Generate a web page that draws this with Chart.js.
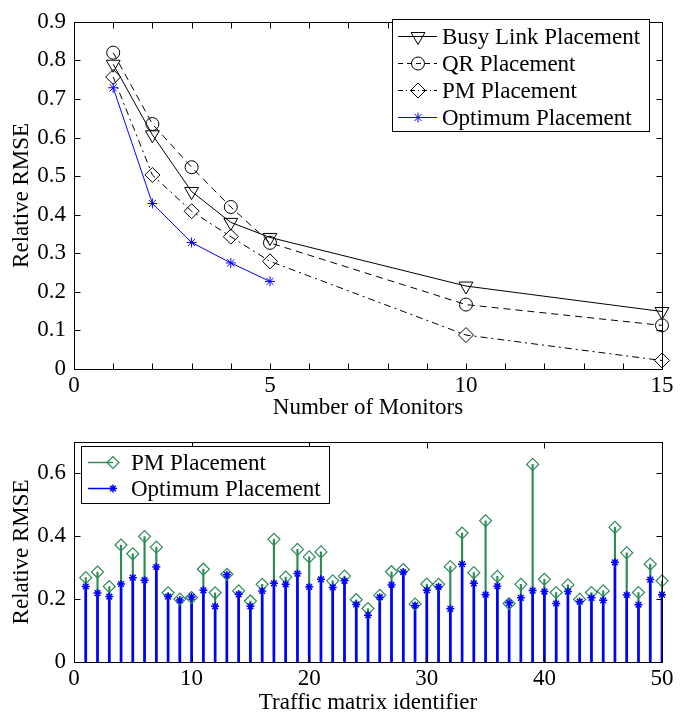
<!DOCTYPE html>
<html>
<head>
<meta charset="utf-8">
<script src="https://cdn.jsdelivr.net/npm/chart.js@4.4.1/dist/chart.umd.min.js"></script>
<style>
  html, body { margin: 0; padding: 0; background: #fff; }
  #wrap { position: relative; width: 694px; height: 714px; }
  #topChart { position: absolute; left: 0; top: 0; }
  #botChart { position: absolute; left: 0; top: 420px; }
</style>
</head>
<body>
<div id="wrap">
  <canvas id="topChart" width="694" height="420"></canvas>
  <canvas id="botChart" width="694" height="294"></canvas>
</div>
<script>
// ---- top panel: error vs number of monitors ----
const monitors = [1, 2, 3, 4, 5, 10, 15];
const busyLink = [0.790, 0.607, 0.460, 0.380, 0.341, 0.215, 0.149];
const qrPlace  = [0.820, 0.635, 0.523, 0.420, 0.327, 0.167, 0.113];
const pmPlace  = [0.757, 0.503, 0.409, 0.343, 0.279, 0.088, 0.022];
const optMonitors = [1, 2, 3, 4, 5];
const optPlace = [0.729, 0.429, 0.328, 0.275, 0.227];

const topXTicks = [0, 1, 2, 3, 4, 5, 6, 7, 8, 9, 10, 11, 12, 13, 14, 15];
const topXLabels = [0, 5, 10, 15];
const topYTicks = [0, 0.1, 0.2, 0.3, 0.4, 0.5, 0.6, 0.7, 0.8, 0.9];

// ---- bottom panel: error per traffic matrix ----
const tmIds = [];
for (let i = 1; i <= 50; i++) tmIds.push(i);
const pmTm = [0.268, 0.286, 0.240, 0.372, 0.344, 0.399, 0.365, 0.220, 0.200, 0.205,
              0.295, 0.220, 0.279, 0.226, 0.194, 0.247, 0.390, 0.270, 0.358, 0.334,
              0.350, 0.258, 0.273, 0.198, 0.170, 0.212, 0.287, 0.294, 0.184, 0.248,
              0.247, 0.303, 0.410, 0.284, 0.449, 0.272, 0.186, 0.247, 0.628, 0.263,
              0.221, 0.245, 0.199, 0.221, 0.226, 0.428, 0.347, 0.221, 0.311, 0.258];
const optTm = [0.240, 0.219, 0.208, 0.248, 0.268, 0.260, 0.302, 0.208, 0.197, 0.207,
               0.228, 0.177, 0.277, 0.215, 0.177, 0.226, 0.250, 0.247, 0.281, 0.239,
               0.263, 0.237, 0.258, 0.183, 0.149, 0.206, 0.245, 0.286, 0.180, 0.228,
               0.239, 0.169, 0.311, 0.250, 0.214, 0.241, 0.188, 0.204, 0.227, 0.224,
               0.186, 0.224, 0.192, 0.204, 0.196, 0.317, 0.213, 0.182, 0.262, 0.214];

const botXTicks = [0, 10, 20, 30, 40, 50];
const botYTicks = [0, 0.2, 0.4, 0.6];

const GREEN = '#2e8b57';
const BLUE = '#0000ff';
const NONE = 'rgba(0,0,0,0)';
const FONT_PX = 23;

Chart.defaults.font.family = '"Liberation Serif", "Times New Roman", serif';
Chart.defaults.font.size = FONT_PX;
Chart.defaults.color = '#000';

function pts(xs, ys) {
  return ys.map((v, i) => ({ x: xs[i], y: v }));
}
function fmtNum(v) {
  return v === 0 ? '0' : (Math.round(v * 10) / 10).toString();
}

// matlab style box with inward ticks on all four sides
const matlabAxes = {
  id: 'matlabAxes',
  afterDatasetsDraw(chart, args, opts) {
    const { ctx, chartArea: a, scales } = chart;
    const len = opts.tickLen || 6;
    const L = Math.round(a.left) + 0.5, R = Math.round(a.right) + 0.5;
    const T = Math.round(a.top) + 0.5, B = Math.round(a.bottom) + 0.5;
    ctx.save();
    ctx.strokeStyle = '#000';
    ctx.lineWidth = 1;
    ctx.beginPath();
    scales.x.ticks.forEach(t => {
      const px = Math.round(scales.x.getPixelForValue(t.value)) + 0.5;
      ctx.moveTo(px, B); ctx.lineTo(px, B - len);
      ctx.moveTo(px, T); ctx.lineTo(px, T + len);
    });
    scales.y.ticks.forEach(t => {
      const py = Math.round(scales.y.getPixelForValue(t.value)) + 0.5;
      ctx.moveTo(L, py); ctx.lineTo(L + len, py);
      ctx.moveTo(R, py); ctx.lineTo(R - len, py);
    });
    ctx.stroke();
    ctx.strokeRect(L, T, R - L, B - T);
    ctx.restore();
  }
};

// legend box drawn like matlab: line sample with marker, then text
const boxLegend = {
  id: 'boxLegend',
  afterDraw(chart, args, o) {
    if (!o || !o.items) return;
    const ctx = chart.ctx;
    ctx.save();
    ctx.fillStyle = '#fff';
    ctx.fillRect(o.left, o.top, o.width, o.height);
    ctx.strokeStyle = '#000';
    ctx.lineWidth = 1;
    ctx.strokeRect(o.left + 0.5, o.top + 0.5, o.width, o.height);
    ctx.font = o.font;
    ctx.textBaseline = 'middle';
    o.items.forEach((it, k) => {
      const ds = chart.data.datasets[it.ds];
      const yy = Math.round(o.top + o.firstRow + k * o.rowGap) + 0.5;
      ctx.strokeStyle = it.color;
      ctx.lineWidth = it.lineWidth || 1;
      ctx.setLineDash(it.dash || []);
      ctx.beginPath();
      ctx.moveTo(o.left + o.lineX0, yy);
      ctx.lineTo(o.left + o.lineX1, yy);
      ctx.stroke();
      ctx.setLineDash([]);
      ctx.fillStyle = NONE;
      ctx.lineWidth = ds.pointBorderWidth || 1;
      Chart.helpers.drawPoint(ctx, {
        pointStyle: ds.pointStyle,
        rotation: ds.pointRotation || 0,
        radius: ds.pointRadius,
        borderWidth: ds.pointBorderWidth || 1
      }, o.left + o.markX, yy);
      ctx.fillStyle = '#000';
      ctx.fillText(ds.label, o.left + o.textX, yy + 1);
    });
    ctx.restore();
  }
};

function fixedSize(w, h) {
  return {
    y: s => { s.width = w; },
    x: s => { s.height = h; }
  };
}

// ---------- top chart ----------
const topFit = fixedSize(74, 51);
new Chart(document.getElementById('topChart'), {
  type: 'line',
  data: {
    datasets: [
      {
        label: 'Busy Link Placement',
        data: pts(monitors, busyLink),
        borderColor: '#000', borderWidth: 1,
        pointStyle: 'triangle', pointRotation: 180, pointRadius: 8,
        pointBorderWidth: 1, pointBackgroundColor: NONE,
        tension: 0, clip: false
      },
      {
        label: 'QR Placement',
        data: pts(monitors, qrPlace),
        borderColor: '#000', borderWidth: 1, borderDash: [7, 5],
        pointStyle: 'circle', pointRadius: 6.5,
        pointBorderWidth: 1, pointBackgroundColor: NONE,
        tension: 0, clip: false
      },
      {
        label: 'PM Placement',
        data: pts(monitors, pmPlace),
        borderColor: '#000', borderWidth: 1, borderDash: [7, 4, 2, 4],
        pointStyle: 'rectRot', pointRadius: 7.5,
        pointBorderWidth: 1, pointBackgroundColor: NONE,
        tension: 0, clip: false
      },
      {
        label: 'Optimum Placement',
        data: pts(optMonitors, optPlace),
        borderColor: BLUE, borderWidth: 1,
        pointStyle: 'star', pointRadius: 5,
        pointBorderWidth: 1, pointBackgroundColor: NONE,
        tension: 0, clip: false
      }
    ]
  },
  options: {
    responsive: false,
    animation: false,
    layout: { padding: { top: 12, right: 32, left: 0, bottom: 0 }, autoPadding: false },
    plugins: {
      legend: { display: false },
      tooltip: { enabled: false },
      matlabAxes: { tickLen: 6 },
      boxLegend: {
        left: 392, top: 19, width: 257, height: 112,
        firstRow: 17, rowGap: 27,
        lineX0: 6, lineX1: 45, markX: 26, textX: 50,
        font: FONT_PX + 'px "Liberation Serif", serif',
        items: [
          { ds: 0, color: '#000' },
          { ds: 1, color: '#000', dash: [5, 4] },
          { ds: 2, color: '#000', dash: [5, 3, 1, 3] },
          { ds: 3, color: BLUE }
        ]
      }
    },
    scales: {
      x: {
        type: 'linear', min: 0, max: 15,
        grid: { display: false, drawTicks: false },
        border: { display: false },
        afterBuildTicks: s => { s.ticks = topXTicks.map(v => ({ value: v })); },
        afterFit: topFit.x,
        ticks: {
          autoSkip: false, maxRotation: 0, padding: 3,
          callback: v => topXLabels.includes(v) ? String(v) : ''
        },
        title: {
          display: true, text: 'Number of Monitors',
          font: { size: FONT_PX, lineHeight: 1 }, padding: { top: 0, bottom: 1 }
        }
      },
      y: {
        type: 'linear', min: 0, max: 0.9,
        grid: { display: false, drawTicks: false },
        border: { display: false },
        afterBuildTicks: s => { s.ticks = topYTicks.map(v => ({ value: v })); },
        afterFit: topFit.y,
        ticks: { padding: 8, callback: v => fmtNum(v) },
        title: {
          display: true, text: 'Relative RMSE',
          font: { size: FONT_PX, lineHeight: 1.2 }, padding: { top: 8, bottom: 0 }
        }
      }
    }
  },
  plugins: [matlabAxes, boxLegend]
});

// ---------- bottom chart ----------
const botFit = fixedSize(74, 52);
new Chart(document.getElementById('botChart'), {
  type: 'bar',
  data: {
    datasets: [
      {
        type: 'scatter',
        label: 'Optimum Placement',
        data: pts(tmIds, optTm),
        borderColor: BLUE, pointBorderColor: BLUE,
        pointStyle: 'star', pointRadius: 4, pointBorderWidth: 1.5,
        pointBackgroundColor: NONE, showLine: false, clip: false,
        order: 1
      },
      {
        type: 'scatter',
        label: 'PM Placement',
        data: pts(tmIds, pmTm),
        borderColor: GREEN, pointBorderColor: GREEN,
        pointStyle: 'rectRot', pointRadius: 6, pointBorderWidth: 1.2,
        pointBackgroundColor: NONE, showLine: false, clip: false,
        order: 2
      },
      {
        type: 'bar',
        label: 'Optimum stem',
        data: pts(tmIds, optTm),
        backgroundColor: BLUE, barThickness: 2, grouped: false,
        order: 3
      },
      {
        type: 'bar',
        label: 'PM stem',
        data: pts(tmIds, pmTm),
        backgroundColor: GREEN, barThickness: 1.5, grouped: false,
        order: 4
      }
    ]
  },
  options: {
    responsive: false,
    animation: false,
    layout: { padding: { top: 20, right: 32, left: 0, bottom: 0 }, autoPadding: false },
    plugins: {
      legend: { display: false },
      tooltip: { enabled: false },
      matlabAxes: { tickLen: 6 },
      boxLegend: {
        left: 81, top: 26, width: 248, height: 57,
        firstRow: 16, rowGap: 26,
        lineX0: 7, lineX1: 32, markX: 32, textX: 50,
        font: FONT_PX + 'px "Liberation Serif", serif',
        items: [
          { ds: 1, color: GREEN, lineWidth: 1.5 },
          { ds: 0, color: BLUE, lineWidth: 1.5 }
        ]
      }
    },
    scales: {
      x: {
        type: 'linear', min: 0, max: 50, offset: false,
        grid: { display: false, drawTicks: false, offset: false },
        border: { display: false },
        afterBuildTicks: s => { s.ticks = botXTicks.map(v => ({ value: v })); },
        afterFit: botFit.x,
        ticks: { autoSkip: false, maxRotation: 0, padding: 3, callback: v => String(v) },
        title: {
          display: true, text: 'Traffic matrix identifier',
          font: { size: FONT_PX, lineHeight: 1 }, padding: { top: 0, bottom: 0 }
        }
      },
      y: {
        type: 'linear', min: 0, max: 0.7,
        grid: { display: false, drawTicks: false },
        border: { display: false },
        afterBuildTicks: s => { s.ticks = botYTicks.map(v => ({ value: v })); },
        afterFit: botFit.y,
        ticks: { padding: 8, callback: v => fmtNum(v) },
        title: {
          display: true, text: 'Relative RMSE',
          font: { size: FONT_PX, lineHeight: 1.2 }, padding: { top: 8, bottom: 0 }
        }
      }
    }
  },
  plugins: [matlabAxes, boxLegend]
});
</script>
</body>
</html>
